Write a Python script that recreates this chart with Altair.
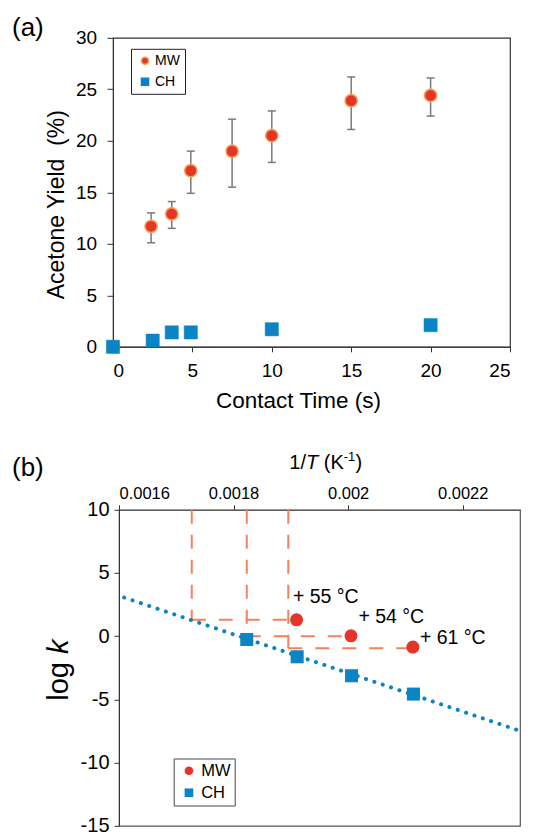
import altair as alt
import pandas as pd

FONT = "Liberation Sans"
RED = "#E4352A"
ORANGE = "#F6A04D"
BLUE = "#0B84C6"
SALMON = "#F5805C"
GRAY = "#7A7A7A"
DARK = "#333333"

# ---------------- panel (a) data ----------------
mw_time = [0, 2.4, 3.7, 4.9, 7.5, 10, 15, 20]
mw_yield = [0, 11.7, 12.9, 17.1, 19.0, 20.5, 23.9, 24.4]
mw_err_time = [2.4, 3.7, 4.9, 7.5, 10, 15, 20]
mw_err_lo = [10.1, 11.5, 14.9, 15.5, 17.9, 21.1, 22.4]
mw_err_hi = [13.0, 14.1, 19.0, 22.1, 22.9, 26.2, 26.1]
ch_time = [0, 2.5, 3.7, 4.9, 10, 20]
ch_yield = [0, 0.6, 1.4, 1.4, 1.7, 2.1]
x_ticks_a = [0, 5, 10, 15, 20, 25]
y_ticks_a = [0, 5, 10, 15, 20, 25, 30]

# ---------------- panel (b) data ----------------
mw_invT = [0.00191, 0.002005, 0.002113]
mw_logk = [1.3, 0.03, -0.86]
mw_labels = ["+ 55 °C", "+ 54 °C", "+ 61 °C"]
ch_invT = [0.001823, 0.001911, 0.002006, 0.002114]
ch_logk = [-0.26, -1.63, -3.13, -4.58]
fit_invT = [0.001609, 0.002296]
fit_logk = [3.06, -7.43]
guide_x = [0.001727, 0.001823, 0.0018955]
guide_y = [1.3, 0.0, -0.95]
x_ticks_b = [0.0016, 0.0018, 0.002, 0.0022]
y_ticks_b = [-15, -10, -5, 0, 5, 10]
x_dom_b = [0.0016, 0.0023]
y_dom_b = [-15, 10]

one = pd.DataFrame({"v": [0]})


def txt(t, x, y, size, style="normal", angle=0):
    return alt.Chart(one).mark_text(
        text=t, align="left", baseline="alphabetic", fontSize=size,
        fontStyle=style, angle=angle, font=FONT, color="black"
    ).encode(x=alt.value(x), y=alt.value(y))


# ================= panel (a) =================
pts_a = pd.concat([
    pd.DataFrame({"t": mw_time, "y": mw_yield, "series": "MW"}),
    pd.DataFrame({"t": ch_time, "y": ch_yield, "series": "CH"}),
])
err_a = pd.DataFrame({"t": mw_err_time, "lo": mw_err_lo, "hi": mw_err_hi})

xs_a = alt.Scale(domain=[0, 25], nice=False, zero=False)
ys_a = alt.Scale(domain=[0, 30], nice=False, zero=False)
ax_xa = alt.Axis(values=x_ticks_a, title="Contact Time (s)", labelFontSize=19,
                 tickSize=5, labelPadding=10, grid=False, domainColor=DARK,
                 tickColor=DARK, labelColor="black", titleColor="black",
                 titleFontSize=22.5, titleFontWeight="normal",
                 titleBaseline="alphabetic", titleX=185, titleY=60.7,
                 labelExpr="'' + datum.value")
ax_ya = alt.Axis(values=y_ticks_a, title="Acetone Yield\u00a0\u00a0(%)",
                 labelFontSize=19, tickSize=6, labelPadding=10.5, grid=False,
                 domainColor=DARK, tickColor=DARK, labelColor="black",
                 titleColor="black", titleFontSize=23, titleFontWeight="normal",
                 titleBaseline="alphabetic", titleAngle=270, titleX=-50,
                 titleY=166.4, labelExpr="'' + datum.value")

leg_a = alt.Legend(orient="none", legendX=18, legendY=11, strokeColor="#222",
                   fillColor="white", padding=5, labelFontSize=14,
                   labelFont=FONT, symbolSize=50, symbolStrokeWidth=1.5,
                   rowPadding=7, labelOffset=3, symbolOffset=2,
                   labelColor="black")
fill_a = alt.Fill("series:N", title=None, legend=leg_a,
                  scale=alt.Scale(domain=["MW", "CH"], range=[RED, BLUE]))
stroke_a = alt.Stroke("series:N", title=None, legend=leg_a,
                      scale=alt.Scale(domain=["MW", "CH"], range=[ORANGE, BLUE]))
shape_a = alt.Shape("series:N", title=None, legend=leg_a,
                    scale=alt.Scale(domain=["MW", "CH"], range=["circle", "square"]))

err_rule = alt.Chart(err_a).mark_rule(color=GRAY, strokeWidth=1.5).encode(
    x=alt.X("t:Q", scale=xs_a, axis=ax_xa),
    y=alt.Y("lo:Q", scale=ys_a, axis=ax_ya),
    y2="hi:Q",
)
cap_lo = alt.Chart(err_a).mark_tick(orient="horizontal", size=8, thickness=1.5,
                                    color=GRAY, opacity=1).encode(
    x=alt.X("t:Q", scale=xs_a, axis=ax_xa),
    y=alt.Y("lo:Q", scale=ys_a, axis=ax_ya),
)
cap_hi = alt.Chart(err_a).mark_tick(orient="horizontal", size=8, thickness=1.5,
                                    color=GRAY, opacity=1).encode(
    x=alt.X("t:Q", scale=xs_a, axis=ax_xa),
    y=alt.Y("hi:Q", scale=ys_a, axis=ax_ya),
)
mw_a = alt.Chart(pts_a).transform_filter(alt.datum.series == "MW").mark_point(
    filled=True, opacity=1, size=150, strokeWidth=1.5).encode(
    x=alt.X("t:Q", scale=xs_a, axis=ax_xa),
    y=alt.Y("y:Q", scale=ys_a, axis=ax_ya),
    fill=fill_a, stroke=stroke_a, shape=shape_a,
)
ch_a = alt.Chart(pts_a).transform_filter(alt.datum.series == "CH").mark_point(
    filled=True, opacity=1, size=175, strokeWidth=0.5).encode(
    x=alt.X("t:Q", scale=xs_a, axis=ax_xa),
    y=alt.Y("y:Q", scale=ys_a, axis=ax_ya),
    fill=fill_a, stroke=stroke_a, shape=shape_a,
)

panel_a = alt.layer(
    err_rule, cap_lo, cap_hi, mw_a, ch_a,
    txt("(a)", -101.0, -1.7, 26),
).properties(width=397, height=309,
             view=alt.ViewBackground(stroke=DARK, strokeWidth=1.2))

# ================= panel (b) =================
pts_b = pd.concat([
    pd.DataFrame({"x": ch_invT, "y": ch_logk, "series": "CH"}),
    pd.DataFrame({"x": mw_invT, "y": mw_logk, "series": "MW"}),
])
fit_b = pd.DataFrame({"x": fit_invT, "y": fit_logk})
guide_b = pd.DataFrame({"gx": guide_x, "gy": guide_y, "mx": mw_invT,
                        "top": [y_dom_b[1]] * len(guide_x)})
lab_b = pd.DataFrame({"x": mw_invT, "y": mw_logk, "label": mw_labels})

xs_b = alt.Scale(domain=x_dom_b, nice=False, zero=False)
ys_b = alt.Scale(domain=y_dom_b, nice=False, zero=False)
ax_xb = alt.Axis(orient="top", values=x_ticks_b, title=None, labelFontSize=16.5,
                 tickSize=5, labelPadding=3, grid=False, domainColor="#555",
                 tickColor=DARK, labelColor="black",
                 labelExpr="'' + datum.value")
ax_yb = alt.Axis(values=y_ticks_b, title=None, labelFontSize=20, tickSize=5,
                 labelPadding=5, grid=False, domainColor=DARK, tickColor=DARK,
                 labelColor="black", labelExpr="'' + datum.value")

leg_b = alt.Legend(orient="none", legendX=54.7, legendY=248.7, strokeColor="#444",
                   fillColor="white", padding=4, labelFontSize=16.5,
                   labelFont=FONT, symbolSize=75, rowPadding=5, symbolOffset=3,
                   labelOffset=4, labelColor="black")
fill_b = alt.Fill("series:N", title=None, legend=leg_b,
                  scale=alt.Scale(domain=["MW", "CH"], range=[RED, BLUE]))
shape_b = alt.Shape("series:N", title=None, legend=leg_b,
                    scale=alt.Scale(domain=["MW", "CH"], range=["circle", "square"]))

g_vert = alt.Chart(guide_b).mark_rule(color=SALMON, strokeWidth=2,
                                      strokeDash=[14, 11]).encode(
    x=alt.X("gx:Q", scale=xs_b, axis=ax_xb),
    y=alt.Y("top:Q", scale=ys_b, axis=ax_yb),
    y2="gy:Q",
)
g_horz = alt.Chart(guide_b).mark_rule(color=SALMON, strokeWidth=2,
                                      strokeDash=[14, 13]).encode(
    x=alt.X("gx:Q", scale=xs_b, axis=ax_xb),
    x2="mx:Q",
    y=alt.Y("gy:Q", scale=ys_b, axis=ax_yb),
)
fit_line = alt.Chart(fit_b).mark_line(color=BLUE, strokeWidth=4, strokeCap="round",
                                      strokeDash=[0.1, 8.7]).encode(
    x=alt.X("x:Q", scale=xs_b, axis=ax_xb),
    y=alt.Y("y:Q", scale=ys_b, axis=ax_yb),
)
ch_b = alt.Chart(pts_b).transform_filter(alt.datum.series == "CH").mark_point(
    filled=True, opacity=1, size=170).encode(
    x=alt.X("x:Q", scale=xs_b, axis=ax_xb),
    y=alt.Y("y:Q", scale=ys_b, axis=ax_yb),
    fill=fill_b, shape=shape_b,
)
mw_b = alt.Chart(pts_b).transform_filter(alt.datum.series == "MW").mark_point(
    filled=True, opacity=1, size=170).encode(
    x=alt.X("x:Q", scale=xs_b, axis=ax_xb),
    y=alt.Y("y:Q", scale=ys_b, axis=ax_yb),
    fill=fill_b, shape=shape_b,
)

label_offsets = [(-3.7, -17), (7.4, -13), (7, -3)]
label_layers = []
for i, (ddx, ddy) in enumerate(label_offsets):
    label_layers.append(
        alt.Chart(lab_b.iloc[[i]]).mark_text(
            align="left", baseline="alphabetic", fontSize=19.5, font=FONT,
            color="black", dx=ddx, dy=ddy).encode(
            x=alt.X("x:Q", scale=xs_b, axis=ax_xb),
            y=alt.Y("y:Q", scale=ys_b, axis=ax_yb),
            text="label:N",
        )
    )

title_b = [
    txt("1/", 170.3, -40.7, 20),
    txt("T", 187.0, -40.7, 20, style="italic"),
    txt("(K", 204.8, -40.7, 20),
    txt("-1", 224.8, -48.7, 13),
    txt(")", 236.4, -40.7, 20),
    txt("log ", -51, 191, 29, angle=270),
    txt("k", -51, 144.3, 29, style="italic", angle=270),
    txt("(b)", -107.0, -34, 26),
]

panel_b = alt.layer(
    g_vert, g_horz, fit_line, ch_b, mw_b, *label_layers, *title_b
).properties(width=401, height=316,
             view=alt.ViewBackground(stroke="#555", strokeWidth=1.2))


def spacer():
    return alt.Chart(one).mark_point(opacity=0, size=1).encode(
        x=alt.value(0), y=alt.value(0)
    ).properties(width=1, height=1,
                 view=alt.ViewBackground(stroke="transparent"))


row_a = alt.hconcat(spacer(), panel_a, spacing=0).resolve_scale(
    fill="independent", stroke="independent", shape="independent")
row_b = alt.hconcat(spacer(), panel_b, spacing=0).resolve_scale(
    fill="independent", shape="independent")

chart = alt.vconcat(row_a, row_b, spacing=37).resolve_scale(
    fill="independent", stroke="independent", shape="independent"
).properties(
    padding={"left": 0, "top": 5.8, "right": 0, "bottom": 0}
).configure(font=FONT)

chart.save("out.html", embed_options={"renderer": "svg", "actions": False})
